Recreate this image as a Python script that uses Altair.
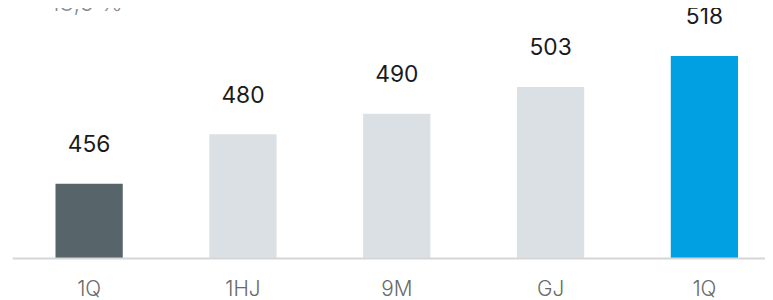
import altair as alt
import pandas as pd

labels = ["1Q", "1HJ", "9M", "GJ", "1Q"]
values = [456, 480, 490, 503, 518]
kinds = ["prev", "hist", "hist", "hist", "curr"]
kind_domain = ["prev", "hist", "curr"]
kind_colors = ["#57656b", "#dbe0e4", "#00a0e3"]
growth_text = "+13,6 %"

df = pd.DataFrame({"idx": list(range(len(values))), "value": values, "kind": kinds})

label_expr = "[" + ",".join("'%s'" % l for l in labels) + "][datum.value]"

x = alt.X(
    "idx:O",
    scale=alt.Scale(range=[0, 777.5], paddingInner=0.5627, paddingOuter=0.2814),
    axis=alt.Axis(
        title=None, labelAngle=0, ticks=False, grid=False, labelExpr=label_expr,
        domainColor="#d6d6d6", domainWidth=2, labelPadding=21, zindex=1,
        labelFont="Inter", labelFontSize=21, labelFontWeight=300, labelColor="#6a6a6a",
    ),
)
y = alt.Y("value:Q", scale=alt.Scale(domain=[420, 540.5], zero=False, nice=False), axis=None)

bars = alt.Chart(df).mark_bar(clip=True).encode(
    x=x, y=y,
    color=alt.Color("kind:N", scale=alt.Scale(domain=kind_domain, range=kind_colors), legend=None),
)

text = alt.Chart(df).mark_text(
    dy=-32, baseline="alphabetic", font="Inter", fontSize=23, fontWeight=400, color="#1a1a1a"
).encode(x=x, y=y, text=alt.Text("value:Q"))

growth = alt.Chart(pd.DataFrame({"t": [growth_text]})).mark_text(
    align="left", baseline="alphabetic", font="Inter", fontSize=24, fontWeight=300, color="#8c8c8c"
).encode(x=alt.value(22.75), y=alt.value(1), text="t:N")

chart = alt.layer(bars, text, growth).properties(
    width=761, height=251,
    autosize=alt.AutoSizeParams(type="none"),
    padding={"left": 4.25, "top": 0, "right": 0, "bottom": 49},
).configure_view(stroke=None)

chart.save("out.html", embed_options={"renderer": "svg", "actions": False})
